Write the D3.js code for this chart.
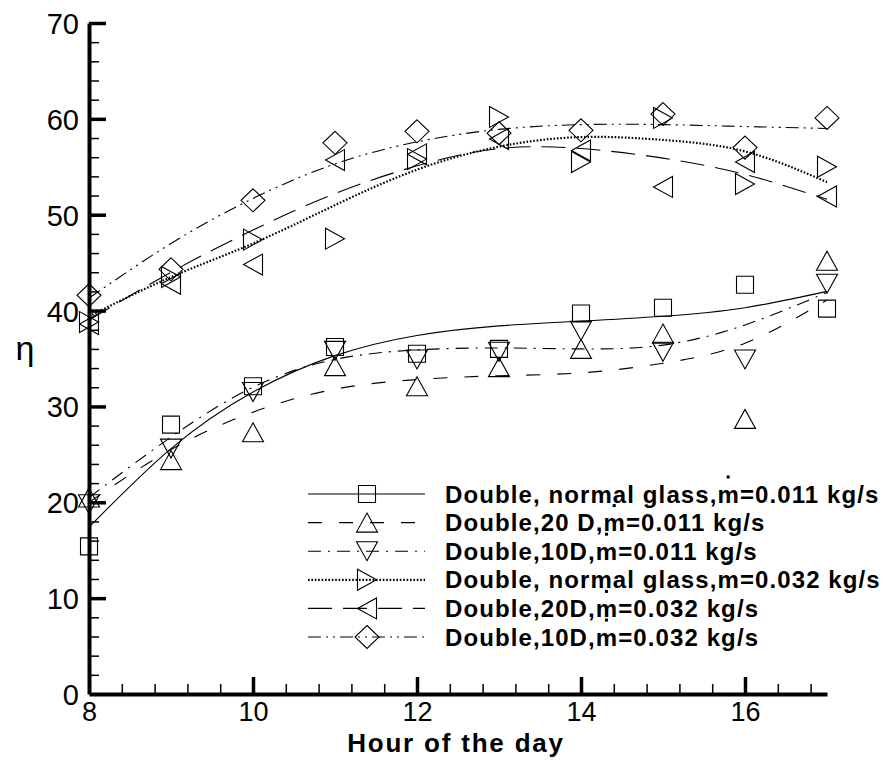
<!DOCTYPE html>
<html>
<head>
<meta charset="utf-8">
<script src="https://cdn.jsdelivr.net/npm/d3@7"></script>
<style>
  html, body { margin: 0; padding: 0; background: #fff; }
  svg { display: block; }
  text { font-family: "Liberation Sans", Arial, sans-serif; fill: #000; }
</style>
</head>
<body>
<svg id="chart" width="884" height="762"></svg>
<script>
// ---------- data ----------
const hours = [8, 9, 10, 11, 12, 13, 14, 15, 16, 17];

// measured points
const normal011 = [15.4, 28.1, 32.1, 36.2, 35.5, 36.0, 39.7, 40.3, 42.7, 40.2];
const d20_011   = [20.5, 24.4, 27.3, 34.2, 32.1, 34.1, 36.0, 37.6, 28.7, 45.2];
const d10_011   = [19.8, 25.6, 31.5, 35.8, 34.9, 35.7, 37.9, 35.7, 34.9, 42.8];
const normal032 = [38.8, 43.5, 47.4, 47.5, 55.8, 60.2, 55.5, 60.1, 53.2, 55.0];
const d20_032   = [38.6, 42.8, 44.8, 55.7, 56.3, 57.9, 56.7, 52.9, 55.5, 51.9];
const d10_032   = [41.6, 44.3, 51.5, 57.5, 58.7, 58.5, 58.8, 60.5, 57.0, 60.1];

// fitted curves read at each hour
const fitNormal011 = [17.4, 25.6, 31.5, 35.3, 37.4, 38.4, 38.9, 39.4, 40.3, 42.0];
const fitD20_011   = [20.0, 25.5, 29.4, 31.8, 32.8, 33.2, 33.5, 34.5, 36.6, 41.1];
const fitD10_011   = [20.5, 26.8, 32.0, 34.9, 35.9, 36.1, 36.0, 36.4, 38.5, 41.9];
const fitNormal032 = [39.4, 43.5, 47.0, 51.0, 54.7, 57.1, 58.1, 57.8, 56.6, 53.4];
const fitD20_032   = [39.0, 44.0, 48.4, 52.2, 55.1, 56.9, 56.9, 55.9, 54.2, 51.6];
const fitD10_032   = [41.3, 47.0, 51.7, 55.3, 57.6, 58.9, 59.4, 59.4, 59.2, 59.0];

const seriesNames = [
  "Double, normal glass,m=0.011 kg/s",
  "Double,20 D,m=0.011 kg/s",
  "Double,10D,m=0.011 kg/s",
  "Double, normal glass,m=0.032 kg/s",
  "Double,20D,m=0.032 kg/s",
  "Double,10D,m=0.032 kg/s"
];

const xMajorTicks = [8, 10, 12, 14, 16];
const yMajorTicks = [0, 10, 20, 30, 40, 50, 60, 70];
const xTitle = "Hour of the day";
const yTitle = "η";

// ---------- styles ----------
const markerKinds = ["square", "up", "down", "right", "left", "diamond"];
const dashes = [null, "14,17", "13,7,2,7", "1.6,1.8", "24,11", "13,5,2,5,2,5"];
const lineWidths = [1.1, 1.1, 1.1, 2.2, 1.1, 1.1];

const pointsAll = [normal011, d20_011, d10_011, normal032, d20_032, d10_032];
const fitsAll = [fitNormal011, fitD20_011, fitD10_011, fitNormal032, fitD20_032, fitD10_032];

// ---------- chart ----------
const svg = d3.select("#chart");
const x = d3.scaleLinear().domain([8, 17]).range([89, 827]);
const y = d3.scaleLinear().domain([0, 70]).range([694, 23]);

function markerPath(kind) {
  switch (kind) {
    case "square": return "M-8.5,-8.5H8.5V8.5H-8.5Z";
    case "up": return "M0,-9.5L10.5,9.5L-10.5,9.5Z";
    case "down": return "M0,9.5L10.5,-9.5L-10.5,-9.5Z";
    case "right": return "M9.5,0L-9.5,10.5L-9.5,-10.5Z";
    case "left": return "M-9.5,0L9.5,10.5L9.5,-10.5Z";
    case "diamond": return "M0,-11.5L12,0L0,11.5L-12,0Z";
  }
}

// curves
const line = d3.line()
  .x((d, i) => x(hours[i]))
  .y(d => y(d))
  .curve(d3.curveNatural);

const plot = svg.append("g");
fitsAll.forEach((fit, s) => {
  plot.append("path")
    .attr("d", line(fit))
    .attr("fill", "none")
    .attr("stroke", "#000")
    .attr("stroke-width", lineWidths[s])
    .attr("stroke-dasharray", dashes[s]);
});

// markers
pointsAll.forEach((vals, s) => {
  plot.selectAll(null)
    .data(vals)
    .enter().append("path")
    .attr("d", markerPath(markerKinds[s]))
    .attr("transform", (d, i) => `translate(${x(hours[i])},${y(d)})`)
    .attr("fill", "none")
    .attr("stroke", "#000")
    .attr("stroke-width", 1.1);
});

// axes
const yMinor = d3.range(0, 71, 2).filter(v => v % 10 !== 0);
const xMinor = d3.range(8, 17.01, 0.4).map(v => +v.toFixed(1)).filter(v => Math.abs(v - Math.round(v / 2) * 2) > 0.01);

const gy = svg.append("g").attr("transform", `translate(${x(8)},0)`)
  .call(d3.axisLeft(y).tickValues(yMajorTicks).tickSize(-17).tickSizeOuter(0).tickPadding(10).tickFormat(d3.format("d")));
const gyMinor = svg.append("g").attr("transform", `translate(${x(8)},0)`)
  .call(d3.axisLeft(y).tickValues(yMinor).tickSize(-10).tickSizeOuter(0).tickFormat(""));
const gx = svg.append("g").attr("transform", `translate(0,${y(0)})`)
  .call(d3.axisBottom(x).tickValues(xMajorTicks).tickSize(-17).tickSizeOuter(0).tickPadding(8).tickFormat(d3.format("d")));
const gxMinor = svg.append("g").attr("transform", `translate(0,${y(0)})`)
  .call(d3.axisBottom(x).tickValues(xMinor).tickSize(-10).tickSizeOuter(0).tickFormat(""));

[gy, gx].forEach(g => {
  g.select(".domain").attr("stroke", "#000").attr("stroke-width", 4);
  g.selectAll(".tick line").attr("stroke", "#000").attr("stroke-width", 3.5);
  g.selectAll(".tick text").attr("font-family", "'Liberation Sans', Arial, sans-serif").attr("fill", "#000");
});
gy.selectAll(".tick text").attr("font-size", 29).attr("dy", "0.36em");
gx.selectAll(".tick text").attr("font-size", 27);
[gyMinor, gxMinor].forEach(g => {
  g.select(".domain").remove();
  g.selectAll(".tick line").attr("stroke", "#000").attr("stroke-width", 1.5);
});
// hide major tick line at the corner
gx.selectAll(".tick").filter(d => d === 8).select("line").remove();
gy.selectAll(".tick").filter(d => d === 0).select("line").remove();

// titles
svg.append("text")
  .attr("x", 456).attr("y", 752)
  .attr("text-anchor", "middle")
  .attr("font-size", 26).attr("font-weight", "bold")
  .attr("letter-spacing", "1.8px")
  .text(xTitle);

svg.append("text")
  .attr("x", 25).attr("y", 360)
  .attr("text-anchor", "middle")
  .attr("font-size", 34)
  .text(yTitle);

// legend
const legend = svg.append("g");
seriesNames.forEach((name, s) => {
  const cy = 494 + s * 28.6;
  legend.append("line")
    .attr("x1", 308).attr("x2", 425).attr("y1", cy).attr("y2", cy)
    .attr("stroke", "#000")
    .attr("stroke-width", lineWidths[s])
    .attr("stroke-dasharray", dashes[s]);
  legend.append("path")
    .attr("d", markerPath(markerKinds[s]))
    .attr("transform", `translate(367,${cy})`)
    .attr("fill", "none").attr("stroke", "#000").attr("stroke-width", 1.1);
  const t = legend.append("text")
    .attr("x", 445).attr("y", cy + 8.5)
    .attr("font-size", 24).attr("font-weight", "bold")
    .attr("letter-spacing", "1.1px")
    .text(name);
  // dot over the m (mass flow rate)
  const idx = name.indexOf(",m=") + 1;
  try {
    const ext = t.node().getExtentOfChar(idx);
    legend.append("rect")
      .attr("x", ext.x + (ext.width - 1.1) / 2 - 1.5)
      .attr("y", cy - 18.5)
      .attr("width", 3).attr("height", 3)
      .attr("fill", "#000");
  } catch (e) {}
});
</script>
</body>
</html>
